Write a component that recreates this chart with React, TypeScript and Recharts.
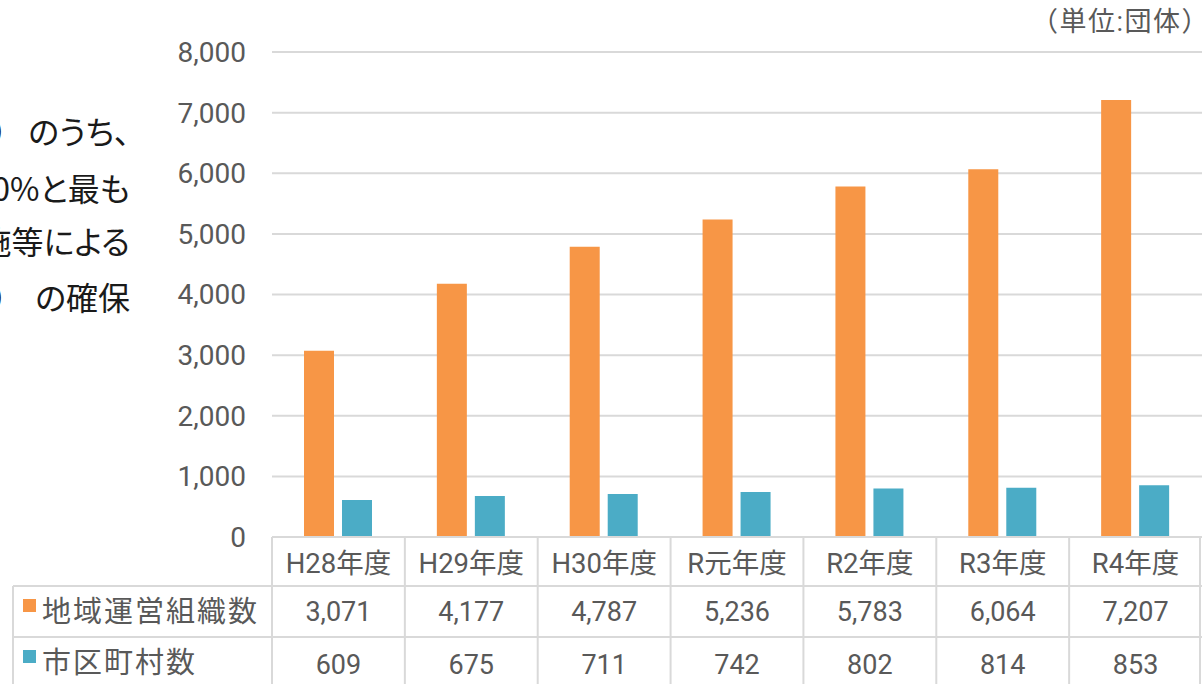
import React from 'react';
import { BarChart, Bar, XAxis, YAxis, CartesianGrid } from 'recharts';

const categories = ['H28年度', 'H29年度', 'H30年度', 'R元年度', 'R2年度', 'R3年度', 'R4年度'];
const orgCounts = [3071, 4177, 4787, 5236, 5783, 6064, 7207];
const muniCounts = [609, 675, 711, 742, 802, 814, 853];
const seriesNames = ['地域運営組織数', '市区町村数'];
const seriesColors = ['#F79646', '#4BACC6'];
const yTicks = [0, 1000, 2000, 3000, 4000, 5000, 6000, 7000, 8000];
const unitLabel = '（単位:団体）';
const noteLeads = ['）', '', '', '）'];
const noteLines = ['のうち、', '0%と最も', '施等による', 'の確保'];

const data = categories.map((c, i) => ({ category: c, org: orgCounts[i], muni: muniCounts[i] }));

const W = 1202;
const H = 684;
const PLOT_LEFT = 272;
const PLOT_TOP = 52;
const XAXIS_H = 147;
const PLOT_BOTTOM = H - XAXIS_H;
const ROW1 = PLOT_BOTTOM + 49;
const ROW2 = ROW1 + 51;
const TABLE_LEFT = 13;
const GRID = '#D9D9D9';
const TEXT = '#595959';
const FONT = "Roboto, 'Noto Sans CJK JP', sans-serif";

const fmt = (v: number) => v.toLocaleString('en-US');

const TableTick = (props: any) => {
  const { x, payload } = props;
  const i = typeof props.index === 'number' ? props.index : categories.indexOf(payload.value);
  const band = (W - PLOT_LEFT) / categories.length;
  const left = x - band / 2;
  const right = x + band / 2;
  const isLast = i === categories.length - 1;
  return (
    <g>
      <line x1={left} x2={left} y1={PLOT_BOTTOM} y2={H + 10} stroke={GRID} strokeWidth={2} />
      {isLast && <line x1={right - 2} x2={right - 2} y1={PLOT_BOTTOM} y2={H + 10} stroke={GRID} strokeWidth={2} />}
      {i === 0 && (
        <g>
          <line x1={PLOT_LEFT} x2={W} y1={PLOT_BOTTOM} y2={PLOT_BOTTOM} stroke={GRID} strokeWidth={2} />
          <line x1={TABLE_LEFT} x2={W} y1={ROW1} y2={ROW1} stroke={GRID} strokeWidth={2} />
          <line x1={TABLE_LEFT} x2={W} y1={ROW2} y2={ROW2} stroke={GRID} strokeWidth={2} />
          <line x1={TABLE_LEFT} x2={TABLE_LEFT} y1={ROW1} y2={H + 10} stroke={GRID} strokeWidth={2} />
          {seriesNames.map((n, k) => (
            <g key={n}>
              <rect x={23} y={(k === 0 ? ROW1 : ROW2) + 13} width={13} height={13} fill={seriesColors[k]} />
              <text x={42} y={(k === 0 ? ROW1 : ROW2) + 26} dominantBaseline="central" fill={TEXT}
                fontSize={29} letterSpacing={2} fontFamily={FONT}>{n}</text>
            </g>
          ))}
        </g>
      )}
      <text x={x} y={PLOT_BOTTOM + 26} textAnchor="middle" dominantBaseline="central" fill={TEXT} fontSize={27.5} fontFamily={FONT}>{payload.value}</text>
      <text x={x} y={ROW1 + 26} textAnchor="middle" dominantBaseline="central" fill={TEXT} fontSize={27} fontFamily={FONT}>{fmt(orgCounts[i])}</text>
      <text x={x} y={ROW2 + 28} textAnchor="middle" dominantBaseline="central" fill={TEXT} fontSize={27} fontFamily={FONT}>{fmt(muniCounts[i])}</text>
    </g>
  );
};

export default function App() {
  return (
    <div style={{ position: 'absolute', left: 0, top: 0, width: W, height: H, overflow: 'hidden', background: '#fff' }}>
      <BarChart width={W} height={H} data={data} margin={{ top: PLOT_TOP, right: 0, left: 0, bottom: 0 }}
        barCategoryGap={32} barGap={8}>
        <CartesianGrid vertical={false} stroke={GRID} strokeWidth={2} />
        <YAxis width={PLOT_LEFT} domain={[0, 8000]} ticks={yTicks} axisLine={false} tickLine={false} tickMargin={20}
          tickFormatter={fmt} tick={{ fill: TEXT, fontSize: 28, fontFamily: FONT }} />
        <XAxis dataKey="category" height={XAXIS_H} axisLine={false} tickLine={false} interval={0}
          tick={(p: any) => <TableTick {...p} />} />
        <Bar dataKey="org" name={seriesNames[0]} fill={seriesColors[0]} isAnimationActive={false} />
        <Bar dataKey="muni" name={seriesNames[1]} fill={seriesColors[1]} isAnimationActive={false} />
      </BarChart>
      <div style={{ position: 'absolute', right: -8, top: 5, fontSize: 27, letterSpacing: 1.5, color: TEXT, fontFamily: FONT, whiteSpace: 'nowrap', lineHeight: '34px' }}>
        {unitLabel}
      </div>
      {noteLines.map((t, k) => (
        <React.Fragment key={t}>
          {noteLeads[k] && (
            <div style={{ position: 'absolute', left: -9, top: [130, 187, 240, 296][k] - 22, height: 44, lineHeight: '44px',
              fontSize: 32, color: '#1a1a1a', fontFamily: "'Noto Sans CJK JP', sans-serif", whiteSpace: 'nowrap' }}>
              {noteLeads[k]}
            </div>
          )}
          <div style={{ position: 'absolute', right: W - 130, top: [130, 187, 240, 296][k] - 22, height: 44, lineHeight: '44px',
            fontSize: 32, color: '#1a1a1a', fontFamily: "'Noto Sans CJK JP', sans-serif", whiteSpace: 'nowrap', fontFeatureSettings: '"palt"' }}>
            {t}
          </div>
        </React.Fragment>
      ))}
    </div>
  );
}
